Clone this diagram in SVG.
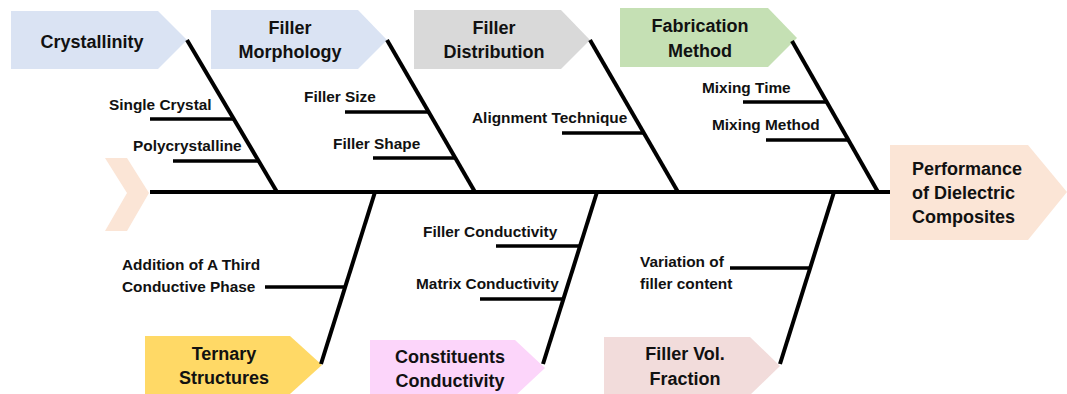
<svg xmlns="http://www.w3.org/2000/svg" width="1067" height="394" viewBox="0 0 1067 394">
<style>
.lbl{font-family:"Liberation Sans",Arial,sans-serif;font-weight:bold;font-size:15.4px;fill:#111}
.ttl{font-family:"Liberation Sans",Arial,sans-serif;font-weight:bold;font-size:18px;fill:#111}
.mid{text-anchor:middle}
.bone{stroke:#000;stroke-width:4;fill:none}
.sub{stroke:#000;stroke-width:3.5;fill:none}
</style>
<rect width="1067" height="394" fill="#fff"/>
<g id="tail"><polygon points="105,158 127,158 149,193 127,231 105,231 127,193" fill="#fbe5d6"/></g>
<g id="head"><polygon points="890,145 1028,145 1067,192 1028,240 890,240" fill="#fbe5d6"/>
<text class="ttl" x="912" y="175">Performance</text><text class="ttl" x="912" y="199">of Dielectric</text><text class="ttl" x="912" y="223">Composites</text></g>
<g id="crystallinity"><polygon points="11,11 158,11 187,40 158,69 11,69" fill="#dae3f3"/><text class="ttl mid" x="92" y="48">Crystallinity</text></g>
<g id="morphology"><polygon points="211,10 358,10 387,40 358,69 211,69" fill="#dae3f3"/><text class="ttl mid" x="290" y="34">Filler</text><text class="ttl mid" x="290" y="58">Morphology</text></g>
<g id="distribution"><polygon points="414,10 561,10 590,40 561,69 414,69" fill="#d9d9d9"/><text class="ttl mid" x="494" y="34">Filler</text><text class="ttl mid" x="494" y="58">Distribution</text></g>
<g id="fabrication"><polygon points="620,8 768,8 797,38 768,67 620,67" fill="#c5e0b4"/><text class="ttl mid" x="700" y="32">Fabrication</text><text class="ttl mid" x="700" y="57">Method</text></g>
<g id="ternary"><polygon points="145,336 290,336 322,365 290,394 145,394" fill="#ffd966"/><text class="ttl mid" x="224" y="360">Ternary</text><text class="ttl mid" x="224" y="384">Structures</text></g>
<g id="constituents"><polygon points="370,340 515,340 545,368 515,396 370,396" fill="#fcd5fa"/><text class="ttl mid" x="450" y="363">Constituents</text><text class="ttl mid" x="450" y="387">Conductivity</text></g>
<g id="fillervol"><polygon points="604,337 750,337 780,366 750,395 604,395" fill="#f2dcdb"/><text class="ttl mid" x="685" y="360">Filler Vol.</text><text class="ttl mid" x="685" y="385">Fraction</text></g>
<g id="connectors">
<line class="bone" x1="150" y1="192" x2="890" y2="192"/>
<line class="bone" x1="187" y1="40" x2="277" y2="192"/>
<line class="bone" x1="387" y1="40" x2="475" y2="192"/>
<line class="bone" x1="590" y1="40" x2="678" y2="192"/>
<line class="bone" x1="792" y1="41" x2="878" y2="192"/>
<line class="bone" x1="375" y1="192" x2="321" y2="364"/>
<line class="bone" x1="597" y1="192" x2="543" y2="364"/>
<line class="bone" x1="834" y1="192" x2="780" y2="364"/>
<line class="sub" x1="150" y1="119" x2="234" y2="119"/>
<line class="sub" x1="173" y1="161" x2="258" y2="161"/>
<line class="sub" x1="345" y1="112" x2="429" y2="112"/>
<line class="sub" x1="373" y1="158" x2="455" y2="158"/>
<line class="sub" x1="562" y1="133" x2="644" y2="133"/>
<line class="sub" x1="743" y1="102" x2="827" y2="102"/>
<line class="sub" x1="766" y1="140" x2="849" y2="140"/>
<line class="sub" x1="265" y1="287" x2="345" y2="287"/>
<line class="sub" x1="496" y1="246" x2="580" y2="246"/>
<line class="sub" x1="480" y1="299" x2="563" y2="299"/>
<line class="sub" x1="730" y1="268" x2="810" y2="268"/>
</g>
<g id="labels">
<text class="lbl" x="109" y="110">Single Crystal</text>
<text class="lbl" x="133" y="151">Polycrystalline</text>
<text class="lbl" x="304" y="102">Filler Size</text>
<text class="lbl" x="333" y="149">Filler Shape</text>
<text class="lbl" x="472" y="123">Alignment Technique</text>
<text class="lbl" x="702" y="93">Mixing Time</text>
<text class="lbl" x="712" y="130">Mixing Method</text>
<text class="lbl" x="122" y="270">Addition of A Third</text>
<text class="lbl" x="122" y="292">Conductive Phase</text>
<text class="lbl" x="423" y="237">Filler Conductivity</text>
<text class="lbl" x="416" y="289">Matrix Conductivity</text>
<text class="lbl" x="640" y="267">Variation of</text>
<text class="lbl" x="640" y="289">filler content</text>
</g>
</svg>
